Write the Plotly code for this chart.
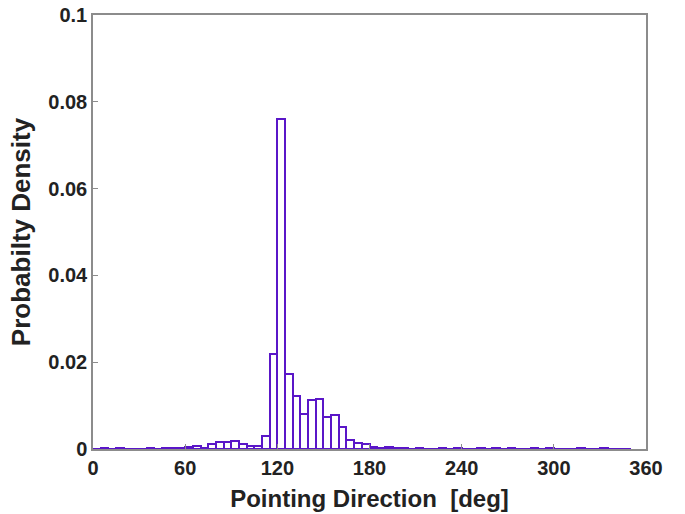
import plotly.graph_objects as go

bin_edges_start = list(range(0, 350, 5))
density = [
    0.0001, 0.0002, 0.0001, 0.0002, 0.0001, 0.0001, 0.0001, 0.0002, 0.0001,  # 0-45
    0.0003, 0.0003, 0.0002, 0.0004, 0.0007, 0.0003, 0.0011, 0.0016, 0.0016,  # 45-90
    0.0018, 0.0011, 0.0008, 0.0008, 0.0031, 0.0219, 0.0760, 0.0173, 0.0123,  # 90-135
    0.0081, 0.0113, 0.0115, 0.0074, 0.0078, 0.0051, 0.0021, 0.0013, 0.0011,  # 135-180
    0.0004, 0.0002, 0.0004, 0.0003, 0.0002, 0.0001, 0.0002, 0.0001, 0.0001,  # 180-225
    0.0002, 0.0001, 0.0002, 0.0001, 0.0001, 0.0002, 0.0001, 0.0002, 0.0001,  # 225-270
    0.0002, 0.0001, 0.0001, 0.0002, 0.0001, 0.0002, 0.0001, 0.0001, 0.0001,  # 270-315
    0.0002, 0.0001, 0.0001, 0.0002, 0.0001, 0.0001, 0.0001,                  # 315-350
]
bin_width = 5
x_ticks = [0, 60, 120, 180, 240, 300, 360]
y_ticks = [0, 0.02, 0.04, 0.06, 0.08, 0.1]
y_tick_labels = ["0", "0.02", "0.04", "0.06", "0.08", "0.1"]

centers = [s + bin_width / 2 for s in bin_edges_start]

fig = go.Figure(go.Bar(
    x=centers, y=density, width=bin_width,
    marker=dict(color="white", line=dict(color="#5a16c8", width=2)),
))

font_family = "Liberation Sans, Arial, sans-serif"
axis_common = dict(
    showline=True, linecolor="#8c8c8c", linewidth=1.5, mirror=True,
    ticks="inside", ticklen=5, tickcolor="#8c8c8c", showgrid=False, zeroline=False,
    automargin=False, ticklabeloverflow="allow",
    tickfont=dict(family=font_family, size=20, color="#222"),
)
fig.update_layout(
    width=685, height=514,
    margin=dict(l=93, r=39, t=15, b=65),
    plot_bgcolor="white", paper_bgcolor="white",
    showlegend=False, bargap=0,
    font=dict(family=font_family),
    xaxis=dict(range=[0, 360], tickvals=x_ticks,
               ticktext=[f"<b>{t}</b>" for t in x_ticks],
               title=dict(text="<b>Pointing Direction  [deg]</b>", font=dict(size=24, color="#222"), standoff=12),
               **axis_common),
    yaxis=dict(range=[0, 0.1], tickvals=y_ticks, ticktext=[f"<b>{t}</b>" for t in y_tick_labels],
               title=dict(text="<b>Probabilty Density</b>", font=dict(size=26, color="#222"), standoff=10),
               **axis_common),
)
fig.write_html("out.html", config={"displayModeBar": False},
               post_script="document.body.style.margin='0';")
